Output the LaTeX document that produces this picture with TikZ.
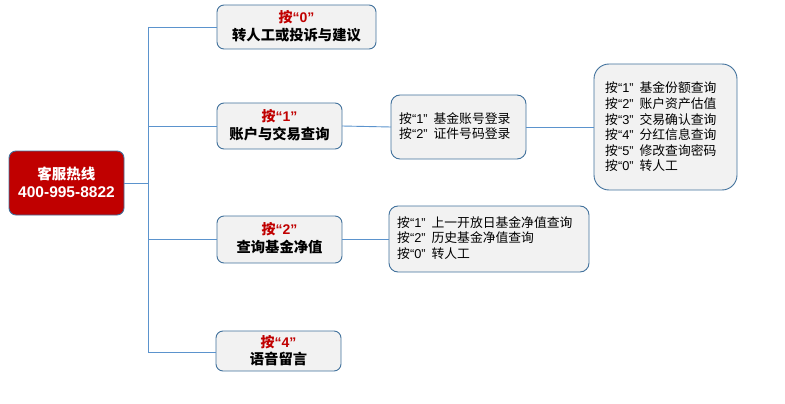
\documentclass[tikz,border=0pt]{standalone}
\usepackage{fontspec}
\setmainfont{Noto Sans CJK SC}
\newfontfamily\lat{Liberation Sans}
\definecolor{bordc}{HTML}{41719C}
\definecolor{linec}{HTML}{5B93CD}
\definecolor{boxfill}{HTML}{F2F2F2}
\definecolor{keyred}{HTML}{C00000}
\newcommand{\keyl}[1]{按{\lat “#1”}\hspace{6pt}}
\newcommand{\keyh}[1]{按{\lat “#1”}}
\begin{document}
\begin{tikzpicture}[x=1pt,y=-1pt,
  box/.style={draw=bordc,fill=boxfill,rounded corners=7pt,line width=0.9pt,inner sep=0pt},
  conn/.style={draw=linec,line width=0.9pt},
  keytxt/.style={font=\fontsize{14}{15}\selectfont\bfseries,text=keyred},
  ttl/.style={font=\fontsize{14.3}{16}\selectfont\bfseries},
  lst/.style={font=\fontsize{12.8}{15.6}\selectfont,align=left,anchor=west,inner sep=1pt}]
\useasboundingbox (0,0) rectangle (785,404);
% root
\draw[draw=bordc,fill=keyred,rounded corners=7pt,line width=0.9pt] (9,151) rectangle (124,215);
\node[font=\fontsize{14.5}{18}\selectfont\bfseries,text=white,align=center] (root) at (66.5,182) {客服热线\\{\lat\fontsize{15.5}{18}\selectfont 400-995-8822}};
\coordinate (rootr) at (124,183);
\coordinate (trunk) at (148,183);
\coordinate (ttop) at (148,27);
\coordinate (tbot) at (148,352);
% boxes
\draw[box] (217,5) rectangle (376,49);
\node[keytxt] (k0) at (296.5,17) {\keyh{0}};
\node[ttl] (t0) at (296.5,35) {转人工或投诉与建议};
\coordinate (b0l) at (217,27);

\draw[box] (217,103) rectangle (342,149);
\node[keytxt] (k1) at (279.5,116) {\keyh{1}};
\node[ttl] (t1) at (279.5,134) {账户与交易查询};
\coordinate (b1l) at (217,126);
\coordinate (b1r) at (342,126);

\draw[box] (217,216) rectangle (342,263);
\node[keytxt] (k2) at (279.5,229) {\keyh{2}};
\node[ttl] (t2) at (279.5,247) {查询基金净值};
\coordinate (b2l) at (217,239);
\coordinate (b2r) at (342,239);

\draw[box] (216,331) rectangle (341,371);
\node[keytxt] (k4) at (278.5,342) {\keyh{4}};
\node[ttl] (t4) at (278.5,359) {语音留言};
\coordinate (b4l) at (216,352);

% sub boxes
\draw[box,rounded corners=9pt] (391,95) rectangle (526,159);
\node[lst] (s1) at (398,126) {\keyl{1}基金账号登录\\\keyl{2}证件号码登录};
\coordinate (s1l) at (391,127);
\coordinate (s1r) at (526,127);

\draw[box,rounded corners=15pt] (594,64) rectangle (737,190);
\node[lst] (s1b) at (604,127) {\keyl{1}基金份额查询\\\keyl{2}账户资产估值\\\keyl{3}交易确认查询\\\keyl{4}分红信息查询\\\keyl{5}修改查询密码\\\keyl{0}转人工};
\coordinate (s1bl) at (594,127);

\draw[box,rounded corners=9pt] (389,206) rectangle (589,272);
\node[lst] (s2) at (396,238) {\keyl{1}上一开放日基金净值查询\\\keyl{2}历史基金净值查询\\\keyl{0}转人工};
\coordinate (s2l) at (389,239);

% connectors
\draw[conn] (rootr) -- (trunk);
\draw[conn] (ttop) -- (tbot);
\draw[conn] (ttop) -- (b0l);
\draw[conn] (148,126) -- (b1l);
\draw[conn] (148,239) -- (b2l);
\draw[conn] (tbot) -- (b4l);
\draw[conn] (b1r) -- (s1l);
\draw[conn] (s1r) -- (s1bl);
\draw[conn] (b2r) -- (s2l);
\end{tikzpicture}
\end{document}
